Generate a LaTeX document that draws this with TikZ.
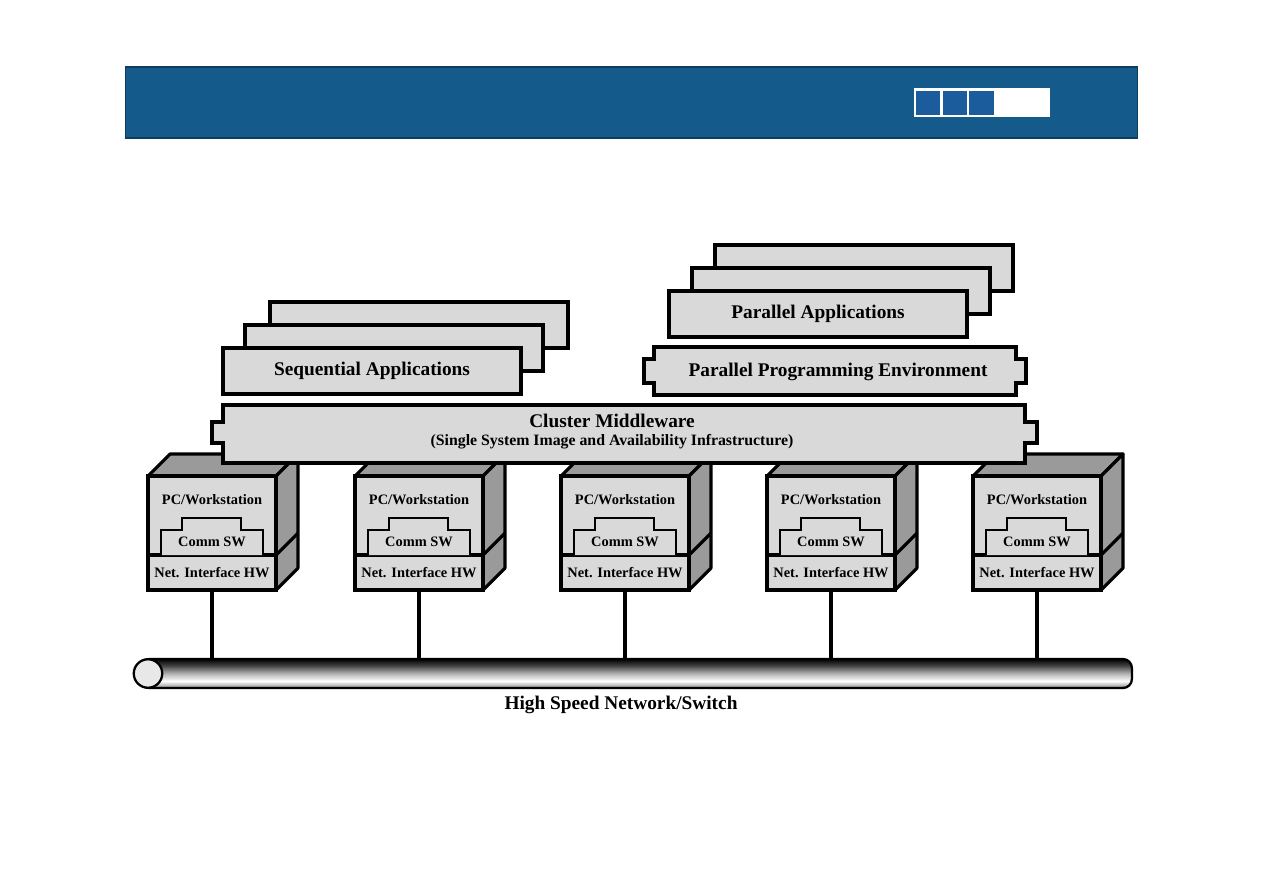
\documentclass[tikz,border=0pt]{standalone}
\usepackage{fontspec}
\setmainfont{Liberation Serif}
\usepackage{tikz}
\usetikzlibrary{positioning,calc}
\definecolor{HeadBlue}{HTML}{145A8A}
\definecolor{HeadEdge}{HTML}{0E3D5F}
\definecolor{TileBlue}{HTML}{1B5C9C}
\definecolor{SlabGray}{HTML}{D9D9D9}
\definecolor{SideGray}{HTML}{9A9A9A}
\definecolor{CapGray}{HTML}{E8E8E8}
\pgfdeclareverticalshading{netpipe}{100bp}{%
  color(0bp)=(black); color(25bp)=(black); color(28bp)=(gray!70);
  color(37bp)=(white); color(50bp)=(gray!60); color(64bp)=(black!75);
  color(75bp)=(black); color(100bp)=(black)}
\tikzset{
  % light grey slab, heavy outline
  slab/.style={draw=black,fill=SlabGray,line width=1.8pt},
  % one box of a stack
  appbox/.style={slab,minimum width=5.96cm,minimum height=0.92cm,inner sep=0pt},
  % darker faces of a box
  face/.style={draw=black,fill=SideGray,line width=1.8pt,line join=round},
  % labels
  LB/.style={font=\fontsize{11}{13}\selectfont\bfseries,inner sep=0pt},
  LM/.style={font=\fontsize{9}{11}\selectfont\bfseries,inner sep=0pt},
  LS/.style={font=\fontsize{8.2}{10}\selectfont\bfseries,inner sep=0pt},
  % network drop
  link/.style={line width=2pt},
  tile/.style={fill=TileBlue,draw=white,line width=0.8pt,minimum size=0.52cm,inner sep=0pt}
}
\begin{document}
\begin{tikzpicture}[x=0.02cm,y=-0.02cm]
  \useasboundingbox[fill=white] (0,0) rectangle (1263,893);

  % title bar
  \node[fill=HeadBlue,draw=HeadEdge,line width=0.6pt,minimum width=20.26cm,
        minimum height=1.42cm,inner sep=0pt] (bar) at (631.5,102.5) {};
  \node[fill=white,minimum width=2.72cm,minimum height=0.57cm,inner sep=0pt] (tiles) at (982,102.3) {};
  \foreach \tx [count=\k] in {928,955,981.5}
    \node[tile] (tile\k) at (\tx,103) {};

  % application stacks
  \node[appbox] (seqC) at (419,325) {};
  \node[appbox] (seqB) at (394,348) {};
  \node[appbox,LB] (seq) at (372,371) {Sequential Applications};
  \node[appbox] (parC) at (864,268) {};
  \node[appbox] (parB) at (841,291) {};
  \node[appbox,LB] (par) at (818,314) {Parallel Applications};

  % programming environment
  \draw[slab] (654,347) -- (1016,347) -- (1016,359) -- (1026,359) -- (1026,383) -- (1016,383)
    -- (1016,395) -- (654,395) -- (654,383) -- (644,383) -- (644,359) -- (654,359) -- cycle;
  \node[LB] (ppe) at (838,372) {Parallel Programming Environment};

  % network
  \node[draw=black,line width=1.3pt,shade,shading=netpipe,rounded corners=0.18cm,
        minimum width=19.84cm,minimum height=0.58cm,inner sep=0pt] (net) at (636,673.5) {};
  \node[circle,draw=black,fill=CapGray,line width=1.3pt,minimum size=0.57cm,inner sep=0pt] (cap) at (148,673.5) {};
  \node[LB] (netlbl) at (621,705) {High Speed Network/Switch};

  % nodes of the cluster
  \foreach \x [count=\i] in {148,355,561,767,973}{
    \draw[face] (\x,476) -- (\x+22,454) -- (\x+150,454) -- (\x+128,476) -- cycle;
    \draw[face] (\x+128,476) -- (\x+150,454) -- (\x+150,568) -- (\x+128,590) -- cycle;
    \draw[line width=1.8pt] (\x+128,555) -- (\x+150,533);
    \node[slab,minimum width=2.56cm,minimum height=1.58cm,inner sep=0pt] (pc\i) at (\x+64,515.5) {};
    \node[slab,minimum width=2.56cm,minimum height=0.7cm,inner sep=0pt] (nic\i) at (\x+64,572.5) {};
    \draw[line width=1.6pt,fill=SlabGray] (\x+13,555) -- (\x+13,530) -- (\x+34,530) -- (\x+34,518)
      -- (\x+93,518) -- (\x+93,530) -- (\x+115,530) -- (\x+115,555);
    \node[LS] (pcl\i) at (\x+64,500) {PC/Workstation};
    \node[LS] (sw\i) at (\x+64,542) {Comm SW};
    \node[LS] (nicl\i) at (nic\i) {Net. Interface HW};
    \draw[link] (nic\i.south) -- (nic\i.south |- net.north);
  }

  % middleware
  \draw[slab] (223,405) -- (1025,405) -- (1025,422) -- (1037,422) -- (1037,443) -- (1025,443)
    -- (1025,463) -- (223,463) -- (223,443) -- (212,443) -- (212,422) -- (223,422) -- cycle;
  \node[LB] (mw) at (612,421) {Cluster Middleware};
  \node[LM] (mwsub) at (612,442) {(Single System Image and Availability Infrastructure)};
\end{tikzpicture}
\end{document}
